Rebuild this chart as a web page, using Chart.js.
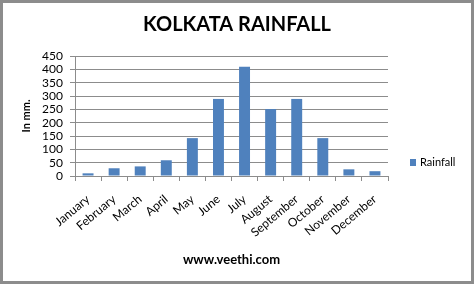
<!DOCTYPE html>
<html>
<head>
<meta charset="utf-8">
<script src="https://cdn.jsdelivr.net/npm/chart.js@4/dist/chart.umd.min.js"></script>
<style>
	html, body { margin: 0; padding: 0; background: #fff; }
	#wrap { position: relative; width: 474px; height: 286px; }
	#frame { position: absolute; left: 0; top: 0; width: 468px; height: 278px; border: 3px solid #8c8c8c; pointer-events: none; }
</style>
</head>
<body>
<div id="wrap">
	<canvas id="myChart" width="474" height="286"></canvas>
	<div id="frame"></div>
</div>
<script>
let months = ["January", "February", "March", "April", "May", "June", "July", "August", "September", "October", "November", "December"];
let rainfall = [10, 29, 36, 59, 142, 289, 410, 251, 289, 142, 25, 18];
let yTicks = [0, 50, 100, 150, 200, 250, 300, 350, 400, 450];

const FONT = "Lato, 'Open Sans', sans-serif";
const BLUE = "#4f81bd";
const GRID = "#8c8c8c";

// legend drawn by hand so it can sit low on the right like the original
let sideLegend = {
	id: "sideLegend",
	afterDraw: function(chart) {
		let ctx = chart.ctx;
		let ds = chart.data.datasets[0];
		ctx.save();
		ctx.fillStyle = ds.backgroundColor;
		ctx.fillRect(410, 159, 6, 7);
		ctx.fillStyle = "#000";
		ctx.font = "11px " + FONT;
		ctx.textBaseline = "middle";
		ctx.fillText(ds.label, 420, 162.5);
		ctx.restore();
	}
};

let ctx = document.getElementById("myChart").getContext("2d");
let chart = new Chart(ctx, {
	type: "bar",
	data: {
		labels: months,
		datasets: [{
			label: "Rainfall",
			data: rainfall,
			backgroundColor: BLUE,
			borderWidth: 0,
			barPercentage: 0.42,
			categoryPercentage: 1.0
		}]
	},
	options: {
		responsive: false,
		animation: false,
		layout: { padding: { left: 0, right: 0, top: 13, bottom: 14 } },
		plugins: {
			legend: { display: false },
			tooltip: { enabled: false },
			title: {
				display: true,
				text: "KOLKATA RAINFALL",
				color: "#000",
				font: { family: FONT, size: 20, weight: "bold" },
				padding: { top: 0, bottom: 19 }
			}
		},
		scales: {
			x: {
				afterFit: function(scale) { scale.height = 96; },
				grid: { offset: true, drawOnChartArea: false, drawTicks: true, tickLength: 5, color: GRID },
				border: { color: GRID },
				ticks: {
					color: "#000",
					font: { family: FONT, size: 12 },
					minRotation: 40,
					maxRotation: 40,
					autoSkip: false,
					padding: 11
				},
				title: {
					display: true,
					text: "www.veethi.com",
					color: "#000",
					font: { family: FONT, size: 13, weight: "bold" },
					padding: { top: 4, bottom: 4 }
				}
			},
			y: {
				min: 0,
				max: 450,
				afterFit: function(scale) { scale.width = 75; },
				afterBuildTicks: function(scale) { scale.ticks = yTicks.map(v => ({ value: v })); },
				grid: { color: GRID, tickLength: 5 },
				border: { color: GRID },
				ticks: {
					color: "#000",
					font: { family: FONT, size: 12 },
					autoSkip: false,
					padding: 7
				},
				title: {
					display: true,
					text: "In mm.",
					color: "#000",
					font: { family: FONT, size: 11, weight: "bold" },
					padding: { top: 20, bottom: 4 }
				}
			},
			// empty right axis only reserves room for the legend, keeps title centred on the page
			spacer: {
				type: "linear",
				position: "right",
				afterFit: function(scale) { scale.width = 86; },
				grid: { display: false, drawTicks: false },
				border: { display: false },
				ticks: { display: false }
			}
		}
	},
	plugins: [sideLegend]
});
</script>
</body>
</html>
